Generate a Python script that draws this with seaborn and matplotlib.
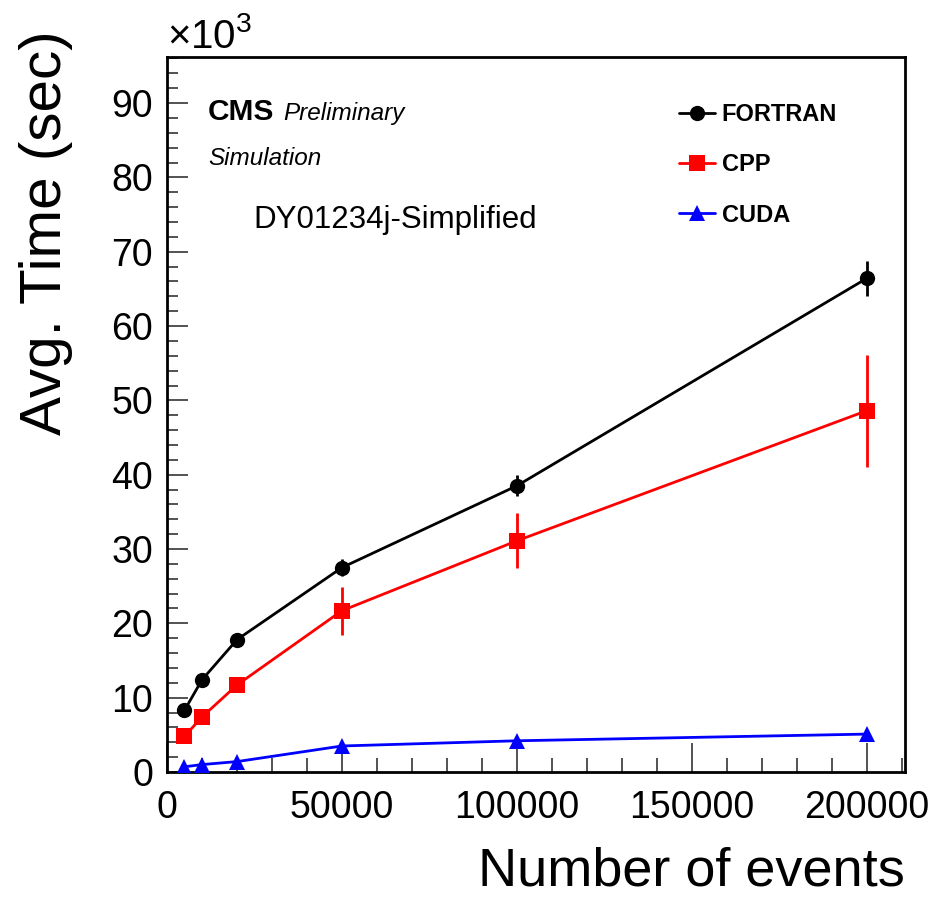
import numpy as np
import pandas as pd
import matplotlib
matplotlib.use("Agg")
import matplotlib.pyplot as plt
import seaborn as sns
from matplotlib.lines import Line2D
from matplotlib.ticker import MultipleLocator

# ---- data (times in units of 10^3 sec) ----
events = [5000, 10000, 20000, 50000, 100000, 200000]
fortran = [8.3, 12.4, 17.8, 27.5, 38.5, 66.4]
fortran_err = [0.3, 0.4, 0.5, 1.1, 1.4, 2.4]
cpp = [4.8, 7.4, 11.7, 21.7, 31.1, 48.6]
cpp_err = [0.2, 0.3, 0.4, 3.2, 3.7, 7.5]
cuda = [0.7, 1.0, 1.4, 3.5, 4.2, 5.1]
cuda_err = [0.05, 0.05, 0.1, 0.2, 0.2, 0.3]
series_names = ["FORTRAN", "CPP", "CUDA"]
colors = {"FORTRAN": "black", "CPP": "#ff0000", "CUDA": "#0000ff"}
markers = {"FORTRAN": "o", "CPP": "s", "CUDA": "^"}
msizes = {"FORTRAN": 11, "CPP": 11, "CUDA": 11.5}

sns.set_style("ticks")
plt.rcParams["font.family"] = ["Liberation Sans", "DejaVu Sans"]
plt.rcParams["text.color"] = "black"
plt.rcParams["axes.labelcolor"] = "black"
plt.rcParams["mathtext.fontset"] = "custom"
plt.rcParams["mathtext.rm"] = "Liberation Sans"
plt.rcParams["mathtext.it"] = "Liberation Sans:italic"

df = pd.concat([
    pd.DataFrame({"events": events, "time": fortran, "err": fortran_err, "series": "FORTRAN"}),
    pd.DataFrame({"events": events, "time": cpp, "err": cpp_err, "series": "CPP"}),
    pd.DataFrame({"events": events, "time": cuda, "err": cuda_err, "series": "CUDA"}),
], ignore_index=True)

fig = plt.figure(figsize=(9.36, 8.98), dpi=100)
ax = fig.add_axes([167/936, 1-772/898, (905-167)/936, (772-57)/898])

for name in series_names:
    sub = df[df.series == name]
    ax.errorbar(sub.events, sub.time, yerr=sub.err, fmt="none",
                ecolor=colors[name], elinewidth=2, capsize=0, zorder=2)

sns.lineplot(data=df, x="events", y="time", hue="series", style="series",
             hue_order=series_names, style_order=series_names,
             palette=colors, markers=markers, dashes=False, linewidth=2,
             markersize=11, markeredgewidth=0, legend=False, ax=ax, zorder=3)
for line, name in zip(ax.get_lines(), series_names):
    line.set_markersize(msizes[name])

ax.set_xlim(0, 211000)
ax.set_ylim(0, 96.2)
ax.xaxis.set_major_locator(MultipleLocator(50000))
ax.xaxis.set_minor_locator(MultipleLocator(10000))
ax.yaxis.set_major_locator(MultipleLocator(10))
ax.yaxis.set_minor_locator(MultipleLocator(2))
ax.tick_params(axis="both", which="both", direction="in", colors="#444444",
               labelcolor="black", labelsize=27, width=1.3)
ax.tick_params(axis="x", which="major", length=21, pad=13)
ax.tick_params(axis="x", which="minor", length=10)
ax.tick_params(axis="y", which="major", length=15, pad=10)
ax.tick_params(axis="y", which="minor", length=8)
for sp in ax.spines.values():
    sp.set_visible(True)
    sp.set_linewidth(2)
    sp.set_color("black")

ax.set_xlabel("")
ax.set_ylabel("")
fig.text(905/936, 1-886/898, "Number of events", fontsize=39, ha="right", va="baseline")
fig.text(46/936, 1-30/898, "Avg. Time (sec)", fontsize=42, rotation=90,
         ha="center", va="top")

fig.text(167/936, 1-48/898, r"$\times$10$^{3}$", fontsize=29, ha="left", va="baseline")

ax.text(208/936, 1-120/898, "CMS", transform=fig.transFigure, fontsize=21.5,
        fontweight="bold", va="baseline")
ax.text(283/936, 1-120/898, "Preliminary", transform=fig.transFigure, fontsize=17.5,
        style="italic", va="baseline")
ax.text(208/936, 1-165/898, "Simulation", transform=fig.transFigure, fontsize=17.5,
        style="italic", va="baseline")
ax.text(253/936, 1-228/898, "DY01234j-Simplified", transform=fig.transFigure,
        fontsize=22.5, va="baseline")

handles = [Line2D([0], [0], color=colors[n], marker=markers[n], markersize=msizes[n],
                  markeredgewidth=0, linewidth=2) for n in series_names]
leg = ax.legend(handles, series_names, loc="upper left",
                bbox_to_anchor=(658/936, 1-82/898), bbox_transform=fig.transFigure,
                frameon=False, handlelength=1.5, handletextpad=0.3,
                labelspacing=1.15, prop={"weight": "bold", "size": 17})

fig.savefig("out.png", dpi=100)
